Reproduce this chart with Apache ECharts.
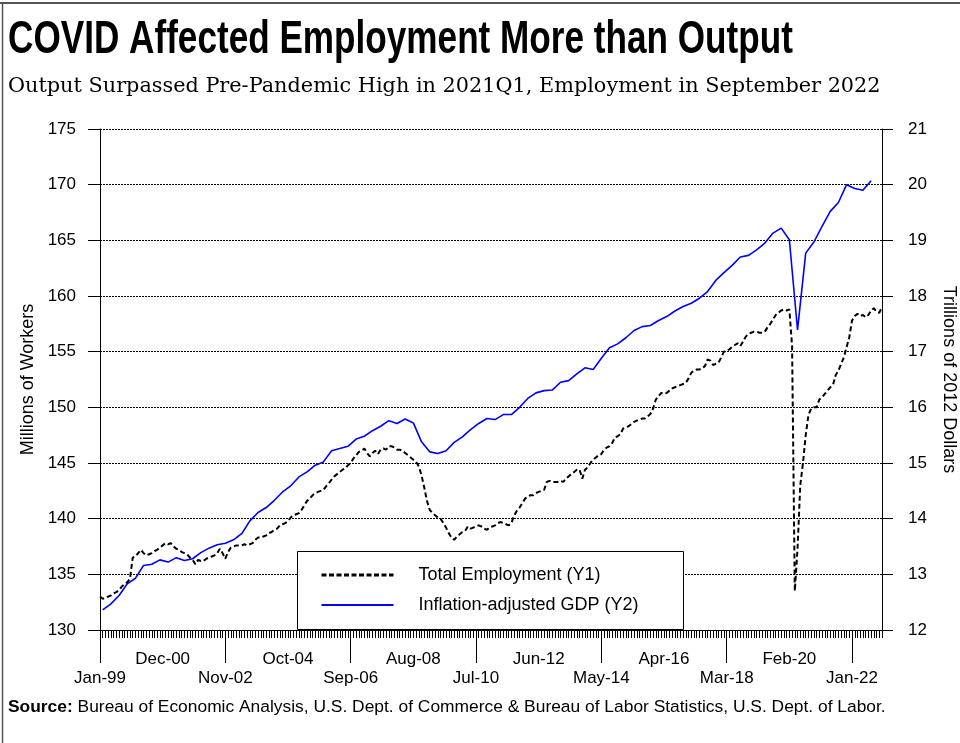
<!DOCTYPE html>
<html><head><meta charset="utf-8">
<script src="https://cdn.jsdelivr.net/npm/echarts@6/dist/echarts.min.js"></script>
<style>html,body{margin:0;padding:0;background:#fff;overflow:hidden}#c{width:960px;height:743px}</style>
</head><body><div id="c"></div>
<script>
// ---------- DATA ----------
const monthNames = ['Jan','Feb','Mar','Apr','May','Jun','Jul','Aug','Sep','Oct','Nov','Dec'];
const firstYear = 1999, lastYear = 2022;
const categories = [];
for (let y = firstYear; y <= lastYear; y++) for (let m = 0; m < 12; m++) categories.push(monthNames[m] + '-' + String(y % 100).padStart(2, '0'));

// Total Employment, millions (monthly, Jan-99 .. Dec-22)
const employment = [
  133.0,132.8,132.9,133.0,133.1,133.3,133.4,133.6,133.9,134.1,134.3,134.6, // 1999
  136.5,136.6,136.9,137.2,136.9,136.7,136.8,136.9,137.1,137.2,137.4,137.6, // 2000
  137.8,137.7,137.8,137.5,137.3,137.2,137.0,136.9,136.8,136.5,136.3,135.9, // 2001
  136.3,136.2,136.2,136.4,136.5,136.6,136.7,136.9,137.3,136.9,136.4,137.0, // 2002
  137.4,137.5,137.6,137.6,137.6,137.7,137.6,137.7,137.8,138.1,138.3,138.3, // 2003
  138.4,138.5,138.7,138.8,139.0,139.1,139.4,139.5,139.6,139.8,140.1,140.3, // 2004
  140.4,140.5,140.8,141.2,141.6,141.8,142.1,142.3,142.4,142.5,142.6,142.9, // 2005
  143.2,143.5,143.8,144.0,144.2,144.4,144.5,144.8,145.0,145.4,145.7,146.0, // 2006
  146.1,146.3,145.9,145.6,145.9,146.1,145.8,146.2,146.3,146.2,146.5,146.5, // 2007
  146.4,146.2,146.2,146.1,145.9,145.7,145.5,145.3,145.1,144.7,143.9,142.8, // 2008
  141.6,140.8,140.5,140.3,140.1,140.0,139.6,139.2,138.7,138.3,138.1,138.4, // 2009
  138.6,138.8,138.9,139.3,139.1,139.2,139.3,139.4,139.3,139.1,139.0,139.2, // 2010
  139.3,139.4,139.6,139.7,139.6,139.5,139.4,139.6,140.3,140.7,141.0,141.4, // 2011
  141.8,142.0,142.1,142.1,142.3,142.4,142.5,142.6,143.3,143.4,143.3,143.3, // 2012
  143.3,143.4,143.3,143.6,143.8,144.0,144.2,144.4,144.4,143.6,144.4,144.6, // 2013
  145.0,145.3,145.5,145.7,145.8,146.2,146.4,146.5,146.8,147.3,147.4,147.6, // 2014
  148.1,148.2,148.3,148.5,148.7,148.8,148.9,149.0,149.0,149.2,149.4,149.9, // 2015
  150.7,151.0,151.3,151.2,151.3,151.5,151.7,151.8,151.9,152.0,152.1,152.2, // 2016
  152.6,153.1,153.3,153.4,153.4,153.5,153.7,154.3,154.2,153.8,153.9,154.0, // 2017
  154.5,155.0,155.1,155.2,155.45,155.6,155.75,155.5,155.9,156.35,156.6,156.7, // 2018
  156.8,156.8,156.7,156.7,156.8,157.2,157.5,157.9,158.3,158.5,158.7,158.8, // 2019
  158.7,158.8,155.5,133.5,137.3,143.0,145.0,147.5,149.3,149.9,150.0,150.0, // 2020
  150.7,150.9,151.2,151.5,151.8,152.0,152.9,153.3,153.9,154.5,155.4,156.3, // 2021
  157.8,158.2,158.4,158.2,158.3,158.1,158.3,158.7,158.9,158.6,158.5,159.0  // 2022
];

// Inflation-adjusted GDP, trillions of 2012 dollars (quarterly, 1999Q1 .. 2022Q3)
const gdp = [
  12.36,12.47,12.62,12.83, 12.93,13.16,13.18,13.26, 13.22,13.30,13.25,13.28,
  13.39,13.47,13.53,13.56, 13.62,13.73,13.96,14.11, 14.20,14.33,14.48,14.59,
  14.75,14.84,14.96,15.02, 15.22,15.26,15.30,15.43, 15.48,15.58,15.66,15.76,
  15.71,15.79,15.72,15.38, 15.20,15.17,15.22,15.37, 15.47,15.60,15.71,15.80,
  15.78,15.87,15.87,16.00, 16.16,16.26,16.30,16.31, 16.45,16.48,16.60,16.71,
  16.68,16.88,17.07,17.14, 17.25,17.38,17.45,17.47, 17.56,17.63,17.73,17.81,
  17.87,17.96,18.08,18.28, 18.42,18.55,18.70,18.73, 18.83,18.95,19.13,19.22,
  19.01,17.39,18.77,18.97, 19.25,19.52,19.68,20.00, 19.93,19.90,20.07
];
const gdpMonthOffset = 1; // quarterly value placed on mid-quarter month

const seriesNames = ['Total Employment (Y1)', 'Inflation-adjusted GDP (Y2)'];
const leftAxis = { min: 130, max: 175, interval: 5, name: 'Millions of Workers' };
const rightAxis = { min: 12, max: 21, interval: 1, name: 'Trillions of 2012 Dollars' };
const titleText = 'COVID Affected Employment More than Output';
const subtitleText = 'Output Surpassed Pre-Pandemic High in 2021Q1, Employment in September 2022';
const sourceText = 'Bureau of Economic Analysis, U.S. Dept. of Commerce & Bureau of Labor Statistics, U.S. Dept. of Labor.';

// ---------- CHART ----------
const SANS = '"Liberation Sans", Arial, sans-serif';
const chart = echarts.init(document.getElementById('c'), null, { renderer: 'canvas' });
const labelPeriod = 23;
chart.setOption({
  animation: false,
  backgroundColor: '#fff',
  grid: { left: 100, right: 78, top: 129, bottom: 113, containLabel: false, outerBoundsMode: 'none' },
  xAxis: [
    {
      type: 'category', data: categories, boundaryGap: false, position: 'bottom',
      axisLine: { show: true, lineStyle: { color: '#000', width: 1 } },
      axisTick: { show: true, interval: 0, length: 8, lineStyle: { color: '#000', width: 1 } },
      axisLabel: { interval: (i) => i % (2 * labelPeriod) === labelPeriod, margin: 21, color: '#000', fontSize: 17, fontFamily: SANS },
      splitLine: { show: false }
    },
    {
      type: 'category', data: categories, boundaryGap: false, position: 'bottom',
      axisLine: { show: false },
      axisTick: { show: true, interval: (i) => i % (2 * labelPeriod) === 0, length: 33, lineStyle: { color: '#000', width: 1 } },
      axisLabel: { interval: (i) => i % (2 * labelPeriod) === 0, margin: 40, color: '#000', fontSize: 17, fontFamily: SANS },
      splitLine: { show: false }
    }
  ],
  yAxis: [
    {
      type: 'value', position: 'left', min: leftAxis.min, max: leftAxis.max, interval: leftAxis.interval,
      name: leftAxis.name, nameLocation: 'middle', nameRotate: 90, nameGap: 60,
      nameTextStyle: { color: '#000', fontSize: 18, fontFamily: SANS },
      axisLine: { show: true, lineStyle: { color: '#000', width: 1 } },
      axisTick: { show: true, length: 12, lineStyle: { color: '#000' } },
      axisLabel: { margin: 24, color: '#000', fontSize: 17, fontFamily: SANS },
      splitLine: { show: true, lineStyle: { color: '#000', width: 1, type: [2, 1] } }
    },
    {
      type: 'value', position: 'right', min: rightAxis.min, max: rightAxis.max, interval: rightAxis.interval,
      name: rightAxis.name, nameLocation: 'middle', nameRotate: -90, nameGap: 58,
      nameTextStyle: { color: '#000', fontSize: 18, fontFamily: SANS },
      axisLine: { show: true, lineStyle: { color: '#000', width: 1 } },
      axisTick: { show: true, length: 11, lineStyle: { color: '#000' } },
      axisLabel: { margin: 26, color: '#000', fontSize: 17, fontFamily: SANS },
      splitLine: { show: false }
    }
  ],
  legend: {
    orient: 'vertical', left: 320, top: 566, padding: 0,
    itemWidth: 72, itemHeight: 14, itemGap: 12,
    itemStyle: { opacity: 0 },
    textStyle: { color: '#000', fontSize: 18, fontFamily: SANS, padding: [0, 0, 0, 20] },
    data: [
      { name: seriesNames[0], lineStyle: { width: 3, type: [5, 2.5] } },
      { name: seriesNames[1], lineStyle: { width: 2 } }
    ]
  },
  series: [
    {
      name: seriesNames[0], type: 'line', xAxisIndex: 0, yAxisIndex: 0,
      data: employment, symbol: 'none', showSymbol: false, z: 3,
      lineStyle: { color: '#000', width: 2, type: [5, 3] }, itemStyle: { color: '#000' }
    },
    {
      name: seriesNames[1], type: 'line', xAxisIndex: 0, yAxisIndex: 1,
      data: gdp.map((v, k) => [k * 3 + gdpMonthOffset, v]), symbol: 'none', showSymbol: false, z: 2,
      lineStyle: { color: '#0000ff', width: 1.6 }, itemStyle: { color: '#0000ff' }
    }
  ],
  graphic: [
    { type: 'rect', z: 1, shape: { x: 297.5, y: 551.5, width: 386, height: 78 },
      style: { fill: '#fff', stroke: '#000', lineWidth: 1 } },
    { type: 'line', z: 10, shape: { x1: 0, y1: 3, x2: 960, y2: 3 }, style: { stroke: '#555', lineWidth: 2 } },
    { type: 'line', z: 10, shape: { x1: 2.5, y1: 3, x2: 2.5, y2: 743 }, style: { stroke: '#555', lineWidth: 1.5 } },
    { type: 'text', z: 10, x: 8, y: 40, scaleX: 0.764,
      style: { text: titleText, font: 'bold 46px "Liberation Sans", Arial, sans-serif', fill: '#000', textVerticalAlign: 'middle' } },
    { type: 'text', z: 10, x: 8, y: 87, scaleX: 1.04,
      style: { text: subtitleText, font: '20px "DejaVu Serif", serif', fill: '#000', textVerticalAlign: 'middle' } },
    { type: 'text', z: 10, x: 8, y: 707,
      style: { text: '{b|Source:} ' + sourceText, fill: '#000', textVerticalAlign: 'middle',
        font: '17.4px ' + SANS,
        rich: { b: { fontWeight: 'bold', fontSize: 17.4, fontFamily: SANS, fill: '#000' } } } }
  ]
});
</script>
</body></html>
